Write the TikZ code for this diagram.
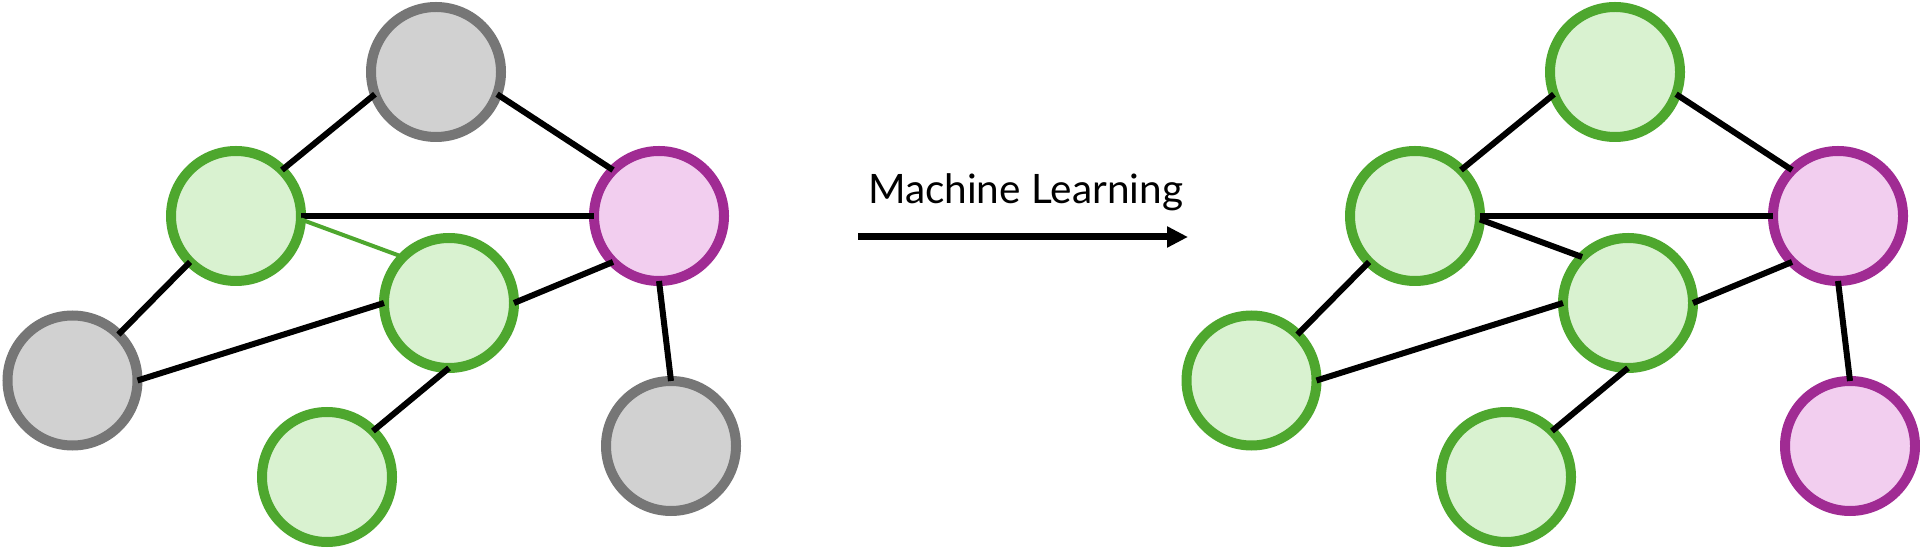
\documentclass[tikz,border=0pt]{standalone}
\usepackage{fontspec}
\setmainfont{Lato}
\usetikzlibrary{arrows.meta}
\definecolor{grayline}{HTML}{767676}
\definecolor{grayfill}{HTML}{D1D1D1}
\definecolor{greenline}{HTML}{4EA72E}
\definecolor{greenfill}{HTML}{D9F2D0}
\definecolor{purpleline}{HTML}{A02B93}
\definecolor{purplefill}{HTML}{F2CEEF}
\newlength\mllabelwidth
\tikzset{
  vertex/.style={circle, minimum size=65pt, inner sep=0pt, outer sep=0pt, line width=5pt},
  grayv/.style={vertex, draw=grayline, fill=grayfill},
  greenv/.style={vertex, draw=greenline, fill=greenfill},
  purplev/.style={vertex, draw=purpleline, fill=purplefill},
  edge/.style={line width=3pt, black},
  greenedge/.style={line width=2pt, greenline},
  mlarrow/.style={line width=3.5pt, black, -{Triangle[length=10.5pt, width=10pt]}}
}
\begin{document}
\settowidth{\mllabelwidth}{\fontsize{20pt}{24pt}\selectfont Machine Learning}%
\pgfmathsetmacro\mlsize{20*157.5/\mllabelwidth}%
\begin{tikzpicture}[x=0.5pt, y=-0.5pt]
\useasboundingbox (0,0) rectangle (1920,549);
% left graph
\node[grayv]   (T)  at (436,72) {};
\node[greenv]  (GL) at (236,216) {};
\node[purplev] (P)  at (659,216) {};
\node[greenv]  (GM) at (449,303) {};
\node[grayv]   (L)  at (72.5,380.5) {};
\node[greenv]  (GB) at (327,477) {};
\node[grayv]   (B)  at (671,446) {};
\draw[edge] (GL.45) -- (T.200);
\draw[edge] (T.340) -- (P.135);
\draw[edge] (GL.0) -- (P.180);
\draw[greenedge] (GL.-3) -- (GM.135);
\draw[edge] (GL.225) -- (L.45);
\draw[edge] (L.0) -- (GM.180);
\draw[edge] (GM.0) -- (P.225);
\draw[edge] (GM.270) -- (GB.45);
\draw[edge] (P.270) -- (B.90);
% arrow and label
\coordinate (a0) at (858,237);
\coordinate (a1) at (1188,237);
\draw[mlarrow] (a0) -- (a1);
\node[anchor=base, inner sep=0pt, font=\fontsize{\mlsize pt}{24pt}\selectfont] (lbl) at (1025.5,204) {Machine Learning};
% right graph
\node[greenv]  (T2)  at (1615,72) {};
\node[greenv]  (GL2) at (1415,216) {};
\node[purplev] (P2)  at (1838,216) {};
\node[greenv]  (GM2) at (1628,303) {};
\node[greenv]  (L2)  at (1251.5,380.5) {};
\node[greenv]  (GB2) at (1506,477) {};
\node[purplev] (B2)  at (1850,446) {};
\draw[edge] (GL2.45) -- (T2.200);
\draw[edge] (T2.340) -- (P2.135);
\draw[edge] (GL2.0) -- (P2.180);
\draw[edge] (GL2.-3) -- (GM2.135);
\draw[edge] (GL2.225) -- (L2.45);
\draw[edge] (L2.0) -- (GM2.180);
\draw[edge] (GM2.0) -- (P2.225);
\draw[edge] (GM2.270) -- (GB2.45);
\draw[edge] (P2.270) -- (B2.90);
\end{tikzpicture}
\end{document}
